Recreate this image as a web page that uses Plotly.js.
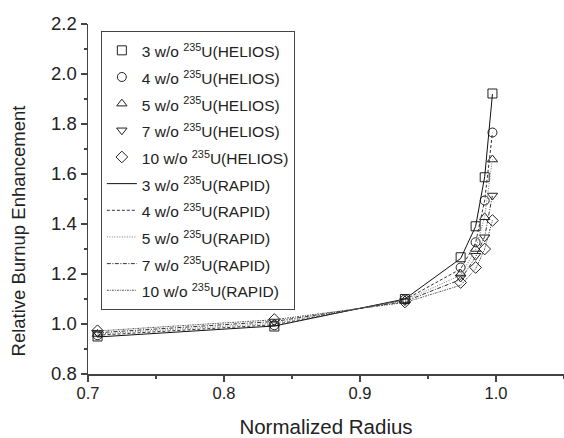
<!DOCTYPE html>
<html>
<head>
<meta charset="utf-8">
<script src="https://cdn.plot.ly/plotly-3.0.1.min.js"></script>
<style>html,body{margin:0;padding:0;background:#fff;}#chart{width:564px;height:438px;}</style>
</head>
<body>
<div id="chart"></div>
<script>
// Normalized radius positions
const radius = [0.707, 0.837, 0.933, 0.974, 0.985, 0.9917, 0.9974];

// HELIOS results (markers)
const helios3  = [0.950, 0.990, 1.100, 1.267, 1.391, 1.587, 1.922];
const helios4  = [0.955, 0.995, 1.098, 1.226, 1.327, 1.494, 1.766];
const helios5  = [0.960, 1.002, 1.095, 1.201, 1.300, 1.427, 1.658];
const helios7  = [0.965, 1.010, 1.092, 1.186, 1.273, 1.347, 1.514];
const helios10 = [0.973, 1.018, 1.088, 1.166, 1.226, 1.300, 1.414];

// RAPID results (lines)
const rapid3  = [0.948, 0.992, 1.100, 1.262, 1.390, 1.590, 1.920];
const rapid4  = [0.955, 0.997, 1.097, 1.220, 1.325, 1.495, 1.765];
const rapid5  = [0.960, 1.003, 1.094, 1.195, 1.298, 1.430, 1.660];
const rapid7  = [0.965, 1.010, 1.090, 1.178, 1.268, 1.350, 1.515];
const rapid10 = [0.972, 1.017, 1.086, 1.155, 1.220, 1.300, 1.415];

const enrich = ['3', '4', '5', '7', '10'];
const heliosSets = [helios3, helios4, helios5, helios7, helios10];
const rapidSets = [rapid3, rapid4, rapid5, rapid7, rapid10];
const symbols = ['square-open', 'circle-open', 'triangle-up-open', 'triangle-down-open', 'diamond-open'];
const dashes = ['solid', '3px,2px', '1px,1.5px', '4px,1.5px,1px,1.5px', '2px,1px,1px,1px'];
const lineColors = ['#111', '#333', '#777', '#333', '#555'];

function label(e, code) {
  return '<span style="font-size:15.5px">' + e + ' w/o <sup>235</sup>U(' + code + ')</span>';
}

const traces = [];
heliosSets.forEach((ys, i) => {
  traces.push({
    x: radius, y: ys, mode: 'markers', type: 'scatter',
    name: label(enrich[i], 'HELIOS'),
    marker: {symbol: symbols[i], size: 9, color: '#222', line: {color: '#222', width: 1}}
  });
});
rapidSets.forEach((ys, i) => {
  traces.push({
    x: radius, y: ys, mode: 'lines', type: 'scatter',
    name: label(enrich[i], 'RAPID'),
    line: {color: lineColors[i], width: 1, dash: dashes[i]}
  });
});

const layout = {
  width: 564, height: 438,
  margin: {l: 88, r: 0, t: 24, b: 64},
  paper_bgcolor: '#fff', plot_bgcolor: '#fff',
  font: {family: 'Liberation Sans, Arial, sans-serif', color: '#222', size: 16},
  showlegend: true,
  legend: {
    x: 0.027, y: 0.98, xanchor: 'left', yanchor: 'top',
    bordercolor: '#444', borderwidth: 1, bgcolor: '#fff',
    font: {size: 18.2, color: '#222'},
    tracegroupgap: 0
  },
  annotations: [{
    text: 'Relative Burnup Enhancement', textangle: -90,
    xref: 'paper', yref: 'paper', x: -0.145, y: 0.41,
    xanchor: 'center', yanchor: 'middle', showarrow: false,
    font: {size: 18.5, color: '#222'}
  }],
  xaxis: {
    range: [0.7, 1.05], showgrid: false, zeroline: false,
    showline: true, linecolor: '#444', linewidth: 1.5,
    ticks: 'outside', ticklen: 6, tickcolor: '#444', tickwidth: 1.5,
    dtick: 0.1, tick0: 0.7, tickformat: '.1f', ticklabelstandoff: -2,
    minor: {dtick: 0.05, ticks: 'outside', ticklen: 3, tickcolor: '#444', tickwidth: 1.5},
    title: {text: 'Normalized Radius', font: {size: 20.5, color: '#222'}, standoff: 19},
    tickfont: {size: 16.5, color: '#222'}
  },
  yaxis: {
    range: [0.8, 2.2], showgrid: false, zeroline: false,
    showline: true, linecolor: '#444', linewidth: 1.5,
    ticks: 'outside', ticklen: 6, tickcolor: '#444', tickwidth: 1.5,
    dtick: 0.2, tick0: 0.8, tickformat: '.1f',
    minor: {dtick: 0.1, ticks: 'outside', ticklen: 3, tickcolor: '#444', tickwidth: 1.5},
    tickfont: {size: 18.5, color: '#222'}
  }
};

Plotly.newPlot('chart', traces, layout, {displayModeBar: false, staticPlot: true});
</script>
</body>
</html>
